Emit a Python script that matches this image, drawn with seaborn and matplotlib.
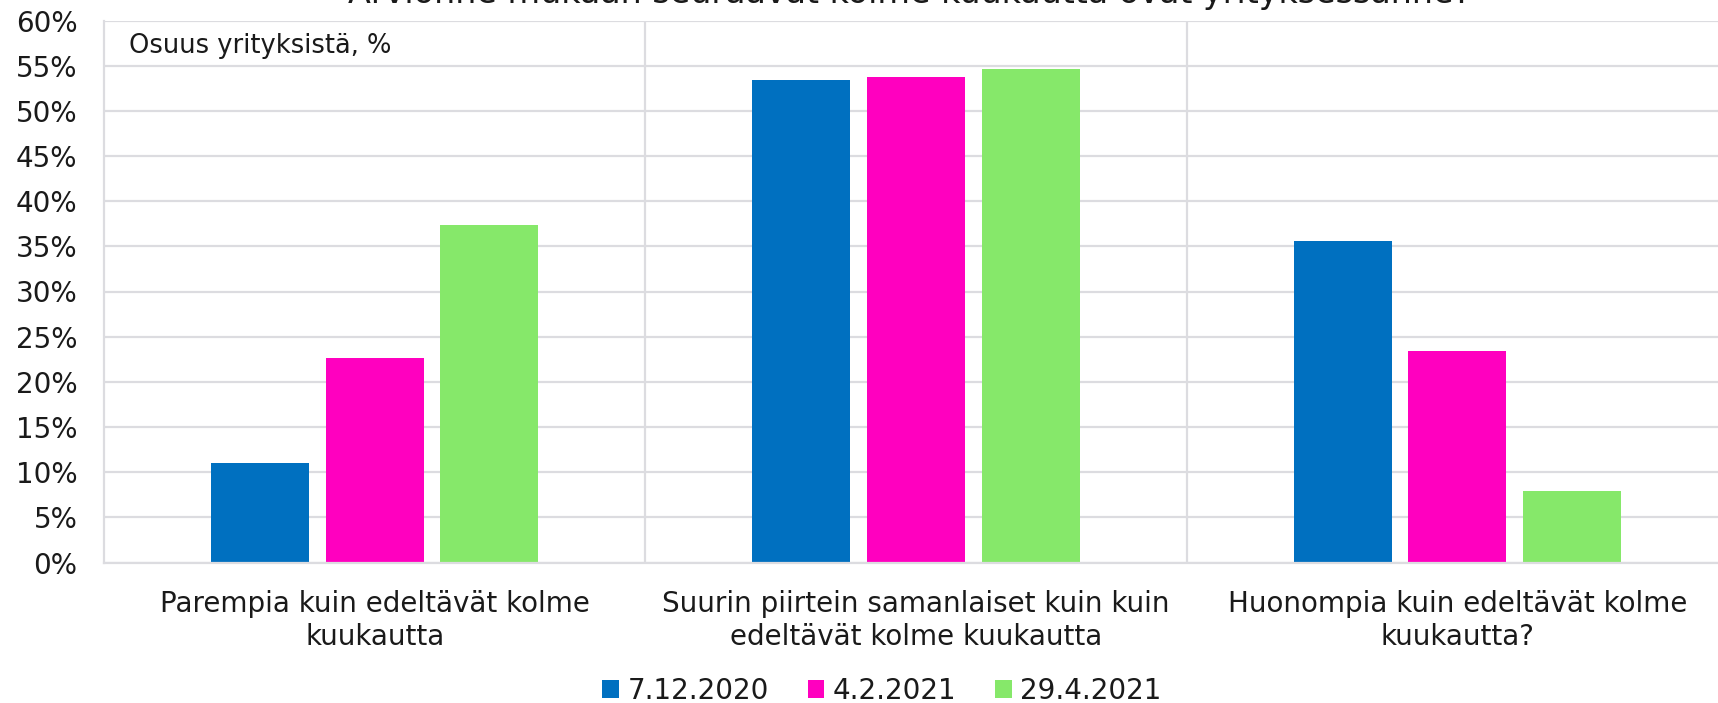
import numpy as np
import pandas as pd
import matplotlib
matplotlib.use("Agg")
import matplotlib.pyplot as plt
import seaborn as sns
from matplotlib.ticker import FuncFormatter, FixedLocator

# Data
categories = [
    "Parempia kuin edeltävät kolme\nkuukautta",
    "Suurin piirtein samanlaiset kuin kuin\nedeltävät kolme kuukautta",
    "Huonompia kuin edeltävät kolme\nkuukautta?",
]
dates = ["7.12.2020", "4.2.2021", "29.4.2021"]
values_2020_12_07 = [11.0, 53.4, 35.6]
values_2021_02_04 = [22.6, 53.8, 23.4]
values_2021_04_29 = [37.4, 54.6, 7.9]
colors = ["#0070C0", "#FF00BF", "#86E86A"]

title = "Arvionne mukaan seuraavat kolme kuukautta ovat yrityksessänne?"
unit_label = "Osuus yrityksistä, %"

df = pd.DataFrame({
    "kategoria": categories * 3,
    "pvm": [d for d in dates for _ in categories],
    "osuus": values_2020_12_07 + values_2021_02_04 + values_2021_04_29,
})

sns.set_theme(style="white")
plt.rcParams["font.family"] = ["DejaVu Sans"]
text_color = "#1a1a1a"
grid_color = "#DCDCE0"

fig = plt.figure(figsize=(17.18, 7.03), dpi=100)
ax = fig.add_axes([104 / 1718, 140.5 / 703, 1624 / 1718, 542 / 703])

sns.barplot(data=df, x="kategoria", y="osuus", hue="pvm", order=categories,
            hue_order=dates, palette=colors, saturation=1, width=0.635,
            gap=0.144, linewidth=0, ax=ax, legend=True)

ax.set_xlim(-0.5, 2.5)
ax.set_ylim(0, 60)
ax.yaxis.set_major_locator(FixedLocator(np.arange(0, 61, 5)))
ax.yaxis.set_major_formatter(FuncFormatter(lambda v, p: f"{v:.0f}%"))
ax.grid(axis="y", color=grid_color, linewidth=1.6, zorder=0)
ax.set_axisbelow(True)
for xb in [0.5, 1.5]:
    ax.axvline(xb, color=grid_color, linewidth=1.6, zorder=0)
for side in ["top", "right"]:
    ax.spines[side].set_visible(False)
for side in ["left", "bottom"]:
    ax.spines[side].set_color(grid_color)
    ax.spines[side].set_linewidth(1.6)

ax.set_xlabel("")
ax.set_ylabel("")
ax.tick_params(axis="y", length=0, pad=19, labelsize=20, labelcolor=text_color)
ax.tick_params(axis="x", length=0, pad=20, labelsize=20, labelcolor=text_color)

fig.text(129 / 1718, 1 - 46 / 703, unit_label, fontsize=18.5, color=text_color,
         ha="left", va="center")
fig.text(910 / 1718, 1 - 3 / 703, title, ha="center", va="baseline",
         fontsize=24, color=text_color)

handles, labels = ax.get_legend_handles_labels()
ax.get_legend().remove()
fig.legend(handles, labels, loc="center", bbox_to_anchor=(882 / 1718, 12 / 703),
           ncol=3, frameon=False, fontsize=20, handlelength=0.6, handleheight=0.6,
           handletextpad=0.3, columnspacing=1.4, borderpad=0, labelcolor=text_color)

fig.savefig("out.png", dpi=100)
